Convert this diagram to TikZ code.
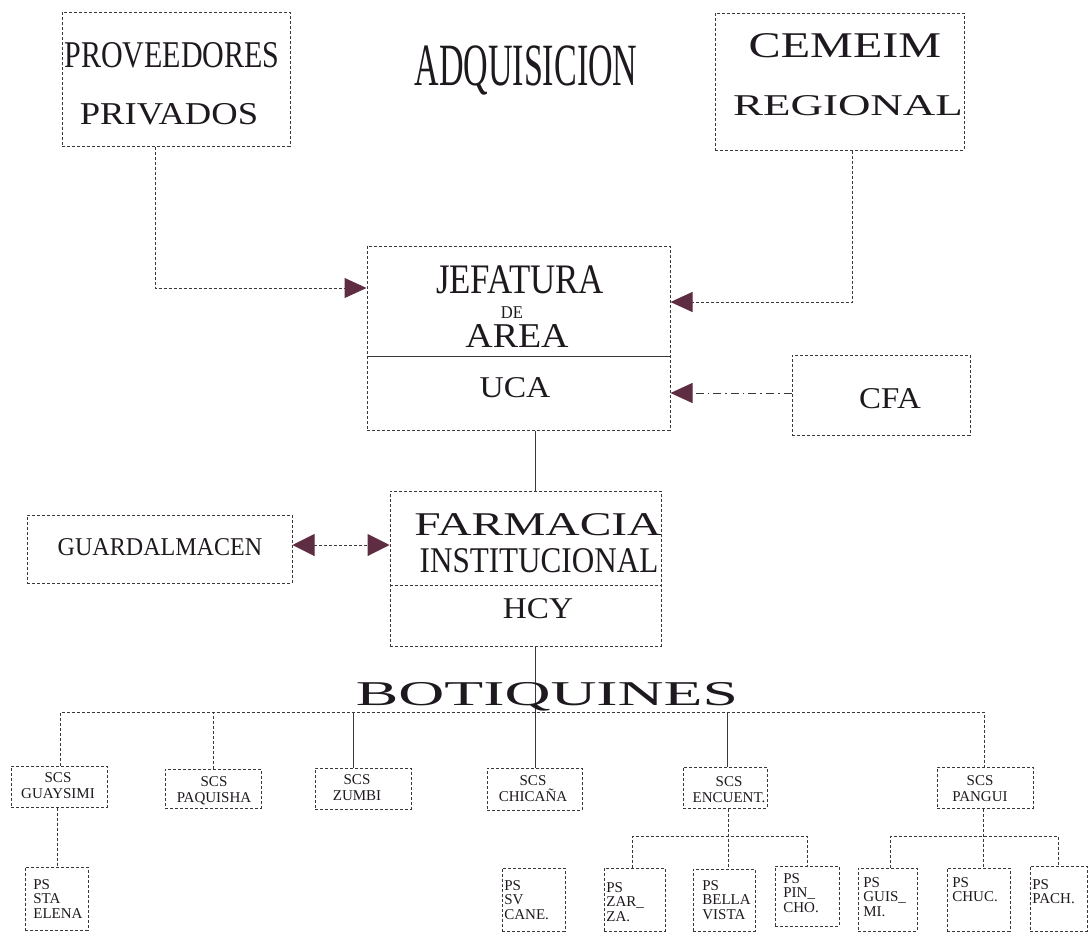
\documentclass[tikz,border=0pt]{standalone}
\usepackage{fontspec}
\setmainfont{Liberation Serif}
\usepackage{graphicx}
\usetikzlibrary{arrows.meta,fit}

\definecolor{inkline}{RGB}{60,55,60}
\definecolor{inktip}{RGB}{95,45,65}
\definecolor{inktext}{RGB}{30,25,30}

\newcommand{\fsz}[1]{\fontsize{#1}{#1}\selectfont}
\newcommand{\hwide}[2]{\scalebox{#1}[1]{#2}}

\tikzset{
  box/.style={draw=inkline, line width=0.5pt, dash pattern=on 1.5pt off 1pt, inner sep=0pt},
  link/.style={draw=inkline, line width=0.5pt, dash pattern=on 1.5pt off 1pt},
  plain/.style={draw=inkline, line width=0.5pt},
  dotlink/.style={draw=inkline, line width=0.5pt, dash pattern=on 4pt off 2pt on 0.8pt off 2pt},
  tipend/.style={arrows={-Triangle[length=11pt,width=10pt,color=inktip]}},
  tipboth/.style={arrows={Triangle[length=11pt,width=11pt,color=inktip]-Triangle[length=11pt,width=11pt,color=inktip]}},
  lbl/.style={anchor=base, inner sep=0pt, text=inktext},
  scs/.style={align=center, inner sep=0pt, text=inktext, font=\fontsize{7.5}{8}\selectfont},
  ps/.style={align=left, anchor=north west, inner sep=0pt, text=inktext, font=\fontsize{7.5}{7.2}\selectfont}
}

\begin{document}
\begin{tikzpicture}[x=0.5pt,y=0.5pt,yscale=-1]
\useasboundingbox (0,0) rectangle (1088,933);

%Shape: Rectangle
\node[box, fit={(62,12) (290,146)}] (prov) {};
\node[box, fit={(715,13) (964,150)}] (cem) {};
\node[box, fit={(367,246) (670,430)}] (jef) {};
\node[box, fit={(792,355) (970,435)}] (cfa) {};
\node[box, fit={(390,491) (661,646)}] (farm) {};
\node[box, fit={(27,515) (292,583)}] (guard) {};
%Shape: Rectangle (SCS)
\node[box, fit={(11,766) (107,807)}] (guay) {};
\node[box, fit={(165,769) (261,808)}] (paq) {};
\node[box, fit={(315,768) (411,809)}] (zum) {};
\node[box, fit={(487,768) (582,810)}] (chic) {};
\node[box, fit={(683,767) (767,808)}] (encu) {};
\node[box, fit={(937,767) (1033,808)}] (pang) {};
%Shape: Rectangle (PS)
\node[box, fit={(25,867) (88,930)}] (sta) {};
\node[box, fit={(502,868) (565,931)}] (sv) {};
\node[box, fit={(604,868) (665,931)}] (zar) {};
\node[box, fit={(693,869) (755,931)}] (bella) {};
\node[box, fit={(775,866) (839,926)}] (pin) {};
\node[box, fit={(858,868) (917,931)}] (guis) {};
\node[box, fit={(947,868) (1010,931)}] (chuc) {};
\node[box, fit={(1030,866) (1087,931)}] (pach) {};

%Straight Lines (dividers)
\draw[plain] (jef.west |- 0,356) -- (jef.east |- 0,356);
\draw[link] (farm.west |- 0,585) -- (farm.east |- 0,585);

%Straight Lines (upper connectors)
\draw[link, tipend] (prov.south -| 155,0) |- (jef.west |- 0,288);
\draw[link, tipend] (cem.south -| 852,0) |- (jef.east |- 0,302);
\draw[dotlink, tipend] (cfa.west |- 0,393) -- (jef.east |- 0,393);
\draw[plain] (jef.south -| 535,0) -- (farm.north -| 535,0);
\draw[link, tipboth] (guard.east |- 0,545) -- (farm.west |- 0,545);
\draw[plain] (farm.south -| 535,0) -- (chic.north -| 535,0);

%Straight Lines (botiquines)
\coordinate (busL) at (60,712);
\coordinate (busR) at (984,712);
\draw[link] (guay.north -| busL) -- (busL) -- (busR) -- (pang.north -| busR);
\draw[link] (paq.north -| 213,0) -- (busL -| 213,0);
\draw[plain] (zum.north -| 353,0) -- (busL -| 353,0);
\draw[plain] (encu.north -| 727,0) -- (busL -| 727,0);
\draw[link] (guay.south -| 57,0) -- (sta.north -| 57,0);

\coordinate (encL) at (632,836);
\coordinate (encR) at (807,836);
\draw[link] (encu.south -| 728,0) -- (bella.north -| 728,0);
\draw[link] (zar.north -| encL) -- (encL) -- (encR) -- (pin.north -| encR);

\coordinate (panL) at (890,836);
\coordinate (panR) at (1058,836);
\draw[link] (pang.south -| 983,0) -- (chuc.north -| 983,0);
\draw[link] (guis.north -| panL) -- (panL) -- (panR) -- (pach.north -| panR);

% Text Node
\node[lbl, font=\fsz{30}] (adq) at (526,85) {\hwide{0.567}{ADQUISICION}};
\node[lbl, font=\fsz{18.9}] (provt1) at (172,67) {\hwide{0.794}{PROVEEDORES}};
\node[lbl, font=\fsz{15.9}] (provt2) at (169,124) {\hwide{1.15}{PRIVADOS}};
\node[lbl, font=\fsz{18.1}] (cemt1) at (845,57) {\hwide{1.33}{CEMEIM}};
\node[lbl, font=\fsz{15.1}] (cemt2) at (848,115) {\hwide{1.49}{REGIONAL}};
\node[lbl, font=\fsz{21}] (jeft1) at (520,293) {\hwide{0.83}{JEFATURA}};
\node[lbl, font=\fsz{9}] (jeft2) at (512,318) {\hwide{0.92}{DE}};
\node[lbl, font=\fsz{17.4}] (jeft3) at (517,347) {\hwide{1.09}{AREA}};
\node[lbl, font=\fsz{15.1}] (ucat) at (515,397) {\hwide{1.11}{UCA}};
\node[lbl, font=\fsz{15.1}] (cfat) at (890,408) {\hwide{1.09}{CFA}};
\node[lbl, font=\fsz{16.6}] (farmt1) at (538,535) {\hwide{1.43}{FARMACIA}};
\node[lbl, font=\fsz{18.1}] (farmt2) at (539,572) {\hwide{0.86}{INSTITUCIONAL}};
\node[lbl, font=\fsz{15.1}] (hcyt) at (538,618) {\hwide{1.10}{HCY}};
\node[lbl, font=\fsz{12.8}] (guardt) at (160,555) {\hwide{0.94}{GUARDALMACEN}};
\node[lbl, font=\fsz{17.4}] (boti) at (547,705) {\hwide{1.83}{BOTIQUINES}};

% Text Node (SCS)
\node[scs] (guayt) at (58,786) {SCS\\GUAYSIMI};
\node[scs] (paqt) at (214,791) {SCS\\PAQUISHA};
\node[scs] (zumt) at (357,788) {SCS\\ZUMBI};
\node[scs] (chict) at (533,789) {SCS\\CHICAÑA};
\node[scs] (encut) at (729,790) {SCS\\ENCUENT.};
\node[scs] (pangt) at (980,789) {SCS\\PANGUI};

% Text Node (PS)
\node[ps] (stat) at (33,879) {PS\\STA\\ELENA};
\node[ps] (svt) at (504,880) {PS\\SV\\CANE.};
\node[ps] (zart) at (606,882) {PS\\ZAR\_\\ZA.};
\node[ps] (bellat) at (702,880) {PS\\BELLA\\VISTA};
\node[ps] (pint) at (783,873) {PS\\PIN\_\\CHO.};
\node[ps] (guist) at (863,877) {PS\\GUIS\_\\MI.};
\node[ps] (chuct) at (952,877) {PS\\CHUC.};
\node[ps] (pacht) at (1032,879) {PS\\PACH.};
\end{tikzpicture}
\end{document}
